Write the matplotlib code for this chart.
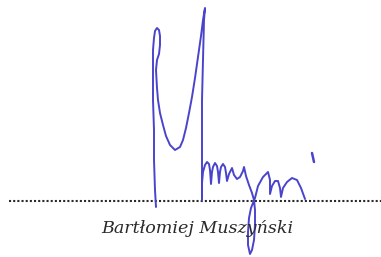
import matplotlib
matplotlib.use("Agg")
import matplotlib.pyplot as plt

W, H = 381, 257

# Signature stroke (pixel coordinates, y downward)
stroke_x = [156, 155, 154, 154, 153, 153, 153, 154, 155, 157, 159, 160, 160, 159, 157, 156,
            157, 158, 160, 163, 166, 170, 175, 180, 183, 186, 189, 192, 195, 198, 201, 203, 205,
            204, 203, 202, 202, 202, 202,
            202, 203, 205, 207, 209, 210, 211,
            212, 213, 215, 217, 218, 219,
            220, 221, 223, 225, 226, 227,
            229, 232, 234, 237, 240, 243, 244,
            246, 249, 252, 254, 255, 255, 254, 252, 250, 248, 248, 249, 251, 255, 258, 263, 268,
            270, 270, 272, 275, 278, 280, 281, 283, 287, 292, 297, 301, 305]
stroke_y = [207, 190, 160, 130, 100, 70, 50, 38, 31, 28, 30, 36, 45, 54, 60, 70,
            88, 100, 113, 125, 136, 145, 150, 147, 140, 128, 113, 97, 78, 57, 36, 20, 8,
            20, 60, 100, 140, 175, 200,
            183, 172, 165, 162, 164, 170, 184,
            172, 167, 163, 166, 172, 183,
            172, 167, 164, 167, 173, 181,
            174, 168, 175, 179, 177, 171, 167,
            176, 185, 193, 200, 210, 225, 240, 250, 254, 245, 232, 218, 208, 198, 186, 177, 172,
            180, 194, 186, 181, 181, 188, 197, 188, 182, 178, 180, 188, 199]

accent_x = [312, 314]
accent_y = [153, 162]

# Dotted signature line
line_y = 201
line_x = [9, 381]

name_text = "Bartłomiej Muszyński"
name_x, name_y = 197, 233

ink = "#4a44cc"
grey = "#2a2a2a"

fig = plt.figure(figsize=(W / 100, H / 100), dpi=100)
ax = fig.add_axes([0, 0, 1, 1])
ax.set_xlim(0, W)
ax.set_ylim(H, 0)
ax.axis("off")

ax.plot(line_x, [line_y, line_y], color=grey, linewidth=1.5,
        dashes=(1, 1.0), dash_capstyle="butt", solid_capstyle="butt")

ax.plot(stroke_x, stroke_y, color=ink, linewidth=1.4, solid_joinstyle="round",
        solid_capstyle="round")
ax.plot(accent_x, accent_y, color=ink, linewidth=1.8, solid_capstyle="round")

ax.text(name_x, name_y, name_text, ha="center", va="baseline",
        family="DejaVu Serif", style="italic", fontsize=12.6, color=grey)

fig.savefig("out.png", dpi=100)
